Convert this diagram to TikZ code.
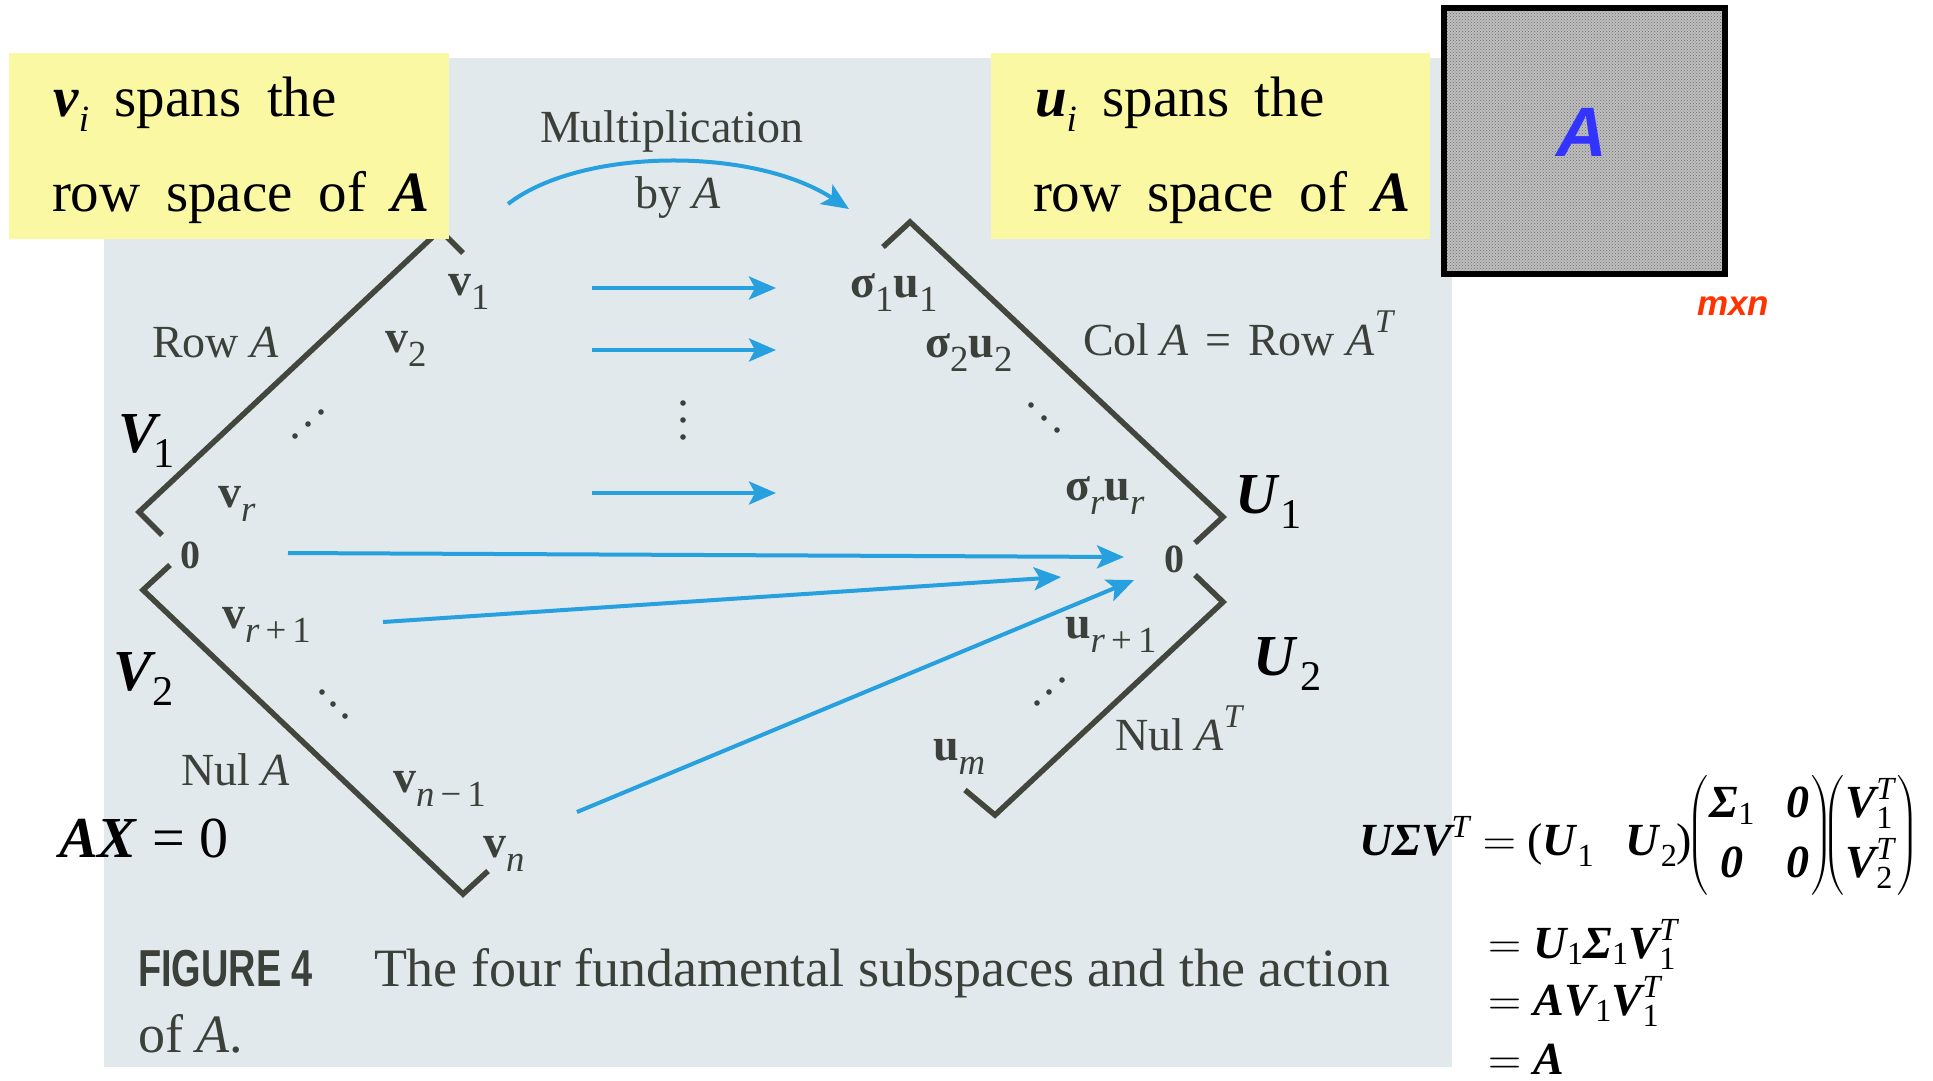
\documentclass[tikz,border=0pt]{standalone}
\usepackage{fix-cm}
\usepackage{amsmath}
\usepackage{fontspec}
\setmainfont{Liberation Serif}
\newfontfamily\boxfont[WordSpace=1.8]{Liberation Serif}
\newfontfamily\capsans[FakeStretch=0.73]{Liberation Sans}
\newfontfamily\handfont{Liberation Sans}
\usetikzlibrary{arrows.meta,patterns}
\definecolor{pagebg}{RGB}{226,233,236}
\definecolor{boxyellow}{RGB}{250,248,162}
\definecolor{booktext}{RGB}{60,64,58}
\definecolor{bookline}{RGB}{66,70,60}
\definecolor{arrowblue}{RGB}{38,160,222}
\definecolor{handblue}{RGB}{51,51,255}
\definecolor{mxnred}{RGB}{255,51,0}
\definecolor{boxgray}{RGB}{190,190,190}
\definecolor{dotgray}{RGB}{110,110,110}
\newcommand\fsz[1]{\fontsize{#1}{#1}\selectfont}
\newcommand\subx[3]{\raisebox{-#1em}{\scalebox{#2}{#3}}}
\newcommand\supx[3]{\raisebox{#1em}{\scalebox{#2}{#3}}}
\newcommand\bix[1]{\text{\bfseries\itshape #1}}
\newcommand\rmx[1]{\text{#1}}
\newcommand\itx[1]{\text{\itshape #1}}
\tikzset{
  ybox/.style={fill=boxyellow, draw=none, anchor=north west},
  boxtext/.style={anchor=base west, text=black, font={\boxfont\fsz{57}}},
  booklab/.style={anchor=base west, text=booktext, font={\fsz{46}}},
  biglab/.style={anchor=base west, text=black, font={\fsz{58}}},
  eqline/.style={anchor=base west, text=black, font={\fontsize{46}{50}\selectfont}},
  barrow/.style={draw=arrowblue, line width=4pt, -{Stealth[length=27pt,width=23pt,inset=6pt]}},
  bline/.style={draw=bookline, line width=5.5pt, line join=miter, line cap=butt},
  bdot/.style={fill=booktext, draw=none},
}
\begin{document}
\begin{tikzpicture}[x=1pt,y=-1pt, every node/.style={inner sep=0pt, outer sep=0pt}]
\useasboundingbox (0,0) rectangle (1933,1080);
\fill[white] (0,0) rectangle (1933,1080);
% scanned page
\fill[pagebg] (104,58) rectangle (1452,1067);

% ---- diamond outlines ----
\coordinate (LUa) at (463,253);
\coordinate (LUb) at (440,230);
\coordinate (LUc) at (139,512);
\coordinate (LUd) at (162,535);
\coordinate (LLa) at (170,565);
\coordinate (LLb) at (143,590);
\coordinate (LLc) at (463,894);
\coordinate (LLd) at (488,871);
\coordinate (RUa) at (883,247);
\coordinate (RUb) at (910,222);
\coordinate (RUc) at (1223,517);
\coordinate (RUd) at (1195,543);
\coordinate (RLa) at (1195,575);
\coordinate (RLb) at (1223,602);
\coordinate (RLc) at (995,815);
\coordinate (RLd) at (965,790);
\draw[bline] (LUa) -- (LUb) -- (LUc) -- (LUd);
\draw[bline] (LLa) -- (LLb) -- (LLc) -- (LLd);
\draw[bline] (RUa) -- (RUb) -- (RUc) -- (RUd);
\draw[bline] (RLa) -- (RLb) -- (RLc) -- (RLd);

% ---- dots ----
\foreach \p in {(683,403),(683,420),(683,437),
                (295,436),(308,424),(321,412),
                (1031,405),(1044,418),(1057,430),
                (322,692),(333,704),(345,716),
                (1037,703),(1049,692),(1062,680)}
  \fill[bdot] \p circle (2.8);

% ---- blue arrows ----
\coordinate (cS) at (508,204);
\coordinate (cE) at (849,209);
\draw[barrow] (cS) .. controls (580,148) and (752,146) .. (cE);
\coordinate (h1S) at (592,288); \coordinate (h1E) at (776,288);
\coordinate (h2S) at (592,350); \coordinate (h2E) at (776,350);
\coordinate (h3S) at (592,493); \coordinate (h3E) at (776,493);
\draw[barrow] (h1S) -- (h1E);
\draw[barrow] (h2S) -- (h2E);
\draw[barrow] (h3S) -- (h3E);
\coordinate (z0S) at (288,553); \coordinate (z0E) at (1124,557);
\coordinate (rS) at (383,622);  \coordinate (rE) at (1061,577);
\coordinate (nS) at (577,812);  \coordinate (nE) at (1134,580);
\draw[barrow] (z0S) -- (z0E);
\draw[barrow] (rS) -- (rE);
\draw[barrow] (nS) -- (nE);

% ---- book labels ----
\node[booklab] (mult) at (540,142) {Multiplication};
\node[booklab] (byA) at (635,208) {by \textit{A}};
\node[booklab] (v1) at (448,295) {\textbf{v}\subx{0.32}{0.8}{1}};
\node[booklab] (v2) at (385,352) {\textbf{v}\subx{0.32}{0.8}{2}};
\node[booklab] (rowA) at (152,357) {Row \textit{A}};
\node[booklab] (vr) at (218,507) {\textbf{v}\subx{0.32}{0.8}{\textit{r}}};
\node[text=booktext, font={\fsz{40}\bfseries}] (zeroL) at (190,555) {0};
\node[booklab] (vr1) at (222,628) {\textbf{v}\subx{0.32}{0.8}{\textit{r}\,+\,1}};
\node[booklab] (nulA) at (181,785) {Nul \textit{A}};
\node[booklab] (vn1) at (393,792) {\textbf{v}\subx{0.32}{0.8}{\textit{n}\,−\,1}};
\node[booklab] (vn) at (483,857) {\textbf{v}\subx{0.32}{0.8}{\textit{n}}};
\node[booklab] (s1u1) at (850,297) {\textbf{σ}\subx{0.32}{0.8}{1}\textbf{u}\subx{0.32}{0.8}{1}};
\node[booklab] (s2u2) at (925,357) {\textbf{σ}\subx{0.32}{0.8}{2}\textbf{u}\subx{0.32}{0.8}{2}};
\node[booklab] (colA) at (1083,355) {Col \textit{A}\hspace{0.36em}=\hspace{0.36em}Row \textit{A}\supx{0.5}{0.72}{\textit{T}}};
\node[booklab] (srur) at (1065,500) {\textbf{σ}\subx{0.32}{0.8}{\textit{r}}\textbf{u}\subx{0.32}{0.8}{\textit{r}}};
\node[text=booktext, font={\fsz{40}\bfseries}] (zeroR) at (1174,559) {0};
\node[booklab] (ur1) at (1065,638) {\textbf{u}\subx{0.32}{0.8}{\textit{r}\,+\,1}};
\node[booklab] (nulAT) at (1115,750) {Nul \textit{A}\supx{0.5}{0.72}{\textit{T}}};
\node[booklab] (um) at (933,760) {\textbf{u}\subx{0.32}{0.8}{\textit{m}}};

% ---- caption ----
\node[anchor=base west, text=booktext, font={\capsans\bfseries\fsz{52}}] (figlab) at (138,986) {FIGURE 4};
\node[anchor=base west, text=booktext, font={\fsz{54}}] (cap1) at (374,986) {The four fundamental subspaces and the action};
\node[anchor=base west, text=booktext, font={\fsz{54}}] (cap2) at (138,1052) {of \textit{A}.};

% ---- yellow boxes ----
\node[ybox, minimum width=440pt, minimum height=186pt] (ybox1) at (9,53) {};
\node[ybox, minimum width=439pt, minimum height=186pt] (ybox2) at (991,53) {};
\node[boxtext] (y1a) at (53,116) {\textbf{\textit{v}}\subx{0.28}{0.65}{\textit{i}} spans the};
\node[boxtext] (y1b) at (52,211) {row space of \textbf{\textit{A}}};
\node[boxtext] (y2a) at (1035,116) {\textbf{\textit{u}}\subx{0.28}{0.65}{\textit{i}} spans the};
\node[boxtext] (y2b) at (1033,211) {row space of \textbf{\textit{A}}};

% ---- matrix A box ----
\node[draw=black, line width=6pt, minimum width=281pt, minimum height=266pt,
      preaction={fill=boxgray}, pattern=crosshatch dots, pattern color=dotgray] (matA) at (1584.5,141) {};
\node[text=handblue, font={\handfont\bfseries\itshape\fsz{70}}] (Ahand) at (1582,132) {A};
\node[anchor=base west, text=mxnred, font={\handfont\bfseries\itshape\fsz{35}}] (mxn) at (1697,315) {mxn};

% ---- big labels ----
\node[biglab] (V1) at (118,452) {\textbf{\textit{V}}\kern-0.12em\subx{0.26}{0.73}{1}};
\node[biglab] (V2) at (113,690) {\textbf{\textit{V}}\kern-0.05em\subx{0.26}{0.73}{2}};
\node[biglab] (U1) at (1235,513) {\textbf{\textit{U}}\kern0.02em\subx{0.26}{0.73}{1}};
\node[biglab] (U2) at (1253,675) {\textbf{\textit{U}}\kern0.05em\subx{0.26}{0.73}{2}};
\node[biglab] (AX) at (59,857) {\textbf{\textit{AX}} = 0};

% ---- equations ----
\node[eqline, anchor=base east] (eq1a) at (1516,855) {$\bix{UΣV}^{\itx{T}}=$};
\node[eqline] (eq1b) at (1527,855) {(\textbf{\textit{U}}\subx{0.25}{0.7}{1}\hspace{32pt}\textbf{\textit{U}}\subx{0.25}{0.7}{2})};
\node[eqline] (eq1c) at (1686,847) {\renewcommand\arraystretch{1.2}%
$\left(\begin{array}{@{\hspace{2pt}}c@{\hspace{32pt}}c@{\hspace{2pt}}}\bix{Σ}_{\rmx{1}}&\bix{0}\\ \bix{0}&\bix{0}\end{array}\right)$};
\node[eqline] (eq1d) at (1822,847) {\renewcommand\arraystretch{1.2}%
$\left(\begin{array}{@{\hspace{2pt}}c@{\hspace{3pt}}}\bix{V}^{\itx{T}}_{\rmx{1}}\\ \bix{V}^{\itx{T}}_{\rmx{2}}\end{array}\right)$};
\node[eqline] (eq2) at (1488,958) {$=\bix{U}_{\rmx{1}}\bix{Σ}_{\rmx{1}}\bix{V}^{\itx{T}}_{\rmx{1}}$};
\node[eqline] (eq3) at (1488,1015) {$=\bix{A}\bix{V}_{\rmx{1}}\bix{V}^{\itx{T}}_{\rmx{1}}$};
\node[eqline] (eq4) at (1488,1074) {$=\bix{A}$};
\end{tikzpicture}
\end{document}
